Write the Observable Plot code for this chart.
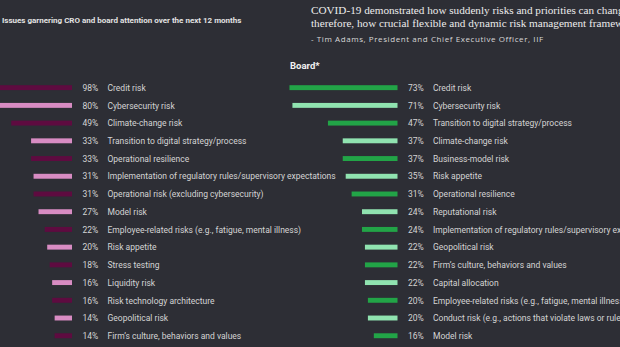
<!DOCTYPE html>
<html>
<head>
<meta charset="utf-8">
<script src="https://cdn.jsdelivr.net/npm/d3@7"></script>
<script src="https://cdn.jsdelivr.net/npm/@observablehq/plot@0.6"></script>
<style>
  html, body { margin: 0; padding: 0; background: #2d2e35; overflow: hidden; }
  #wrap { position: relative; width: 620px; height: 347px; background: #2d2e35; overflow: hidden; }
  #wrap svg { position: absolute; left: 0; top: 0; overflow: visible; }
  .t { position: absolute; white-space: nowrap; color: #e6e6e6; }
  #title { left: 2px; top: 15.5px; font: bold 8px Roboto, sans-serif; color: #e2e2e2; }
  #quote { left: 311px; top: 3.7px; font: 11.2px "Liberation Serif", serif; line-height: 13.7px; color: #ececec; }
  #attr { left: 311px; top: 33px; font: 8px "Open Sans", sans-serif; letter-spacing: 0.58px; color: #d8d8d8; }
  #board { left: 290px; top: 59.5px; font: bold 9.5px Roboto, sans-serif; color: #f2f2f2; }
</style>
</head>
<body>
<div id="wrap">
  <div class="t" id="title">Issues garnering CRO and board attention over the next 12 months</div>
  <div class="t" id="quote">COVID-19 demonstrated how suddenly risks and priorities can change, and<br>therefore, how crucial flexible and dynamic risk management frameworks are.</div>
  <div class="t" id="attr">- Tim Adams, President and Chief Executive Officer, IIF</div>
  <div class="t" id="board">Board*</div>
</div>
<script>
// CRO (left panel)
const croRisks = [
  "Credit risk",
  "Cybersecurity risk",
  "Climate-change risk",
  "Transition to digital strategy/process",
  "Operational resilience",
  "Implementation of regulatory rules/supervisory expectations",
  "Operational risk (excluding cybersecurity)",
  "Model risk",
  "Employee-related risks (e.g., fatigue, mental illness)",
  "Risk appetite",
  "Stress testing",
  "Liquidity risk",
  "Risk technology architecture",
  "Geopolitical risk",
  "Firm’s culture, behaviors and values"
];
const croValues = [98, 80, 49, 33, 33, 31, 31, 27, 22, 20, 18, 16, 16, 14, 14];

// Board (right panel)
const boardRisks = [
  "Credit risk",
  "Cybersecurity risk",
  "Transition to digital strategy/process",
  "Climate-change risk",
  "Business-model risk",
  "Risk appetite",
  "Operational resilience",
  "Reputational risk",
  "Implementation of regulatory rules/supervisory expectations",
  "Geopolitical risk",
  "Firm’s culture, behaviors and values",
  "Capital allocation",
  "Employee-related risks (e.g., fatigue, mental illness)",
  "Conduct risk (e.g., actions that violate laws or rules)",
  "Model risk"
];
const boardValues = [73, 71, 47, 37, 37, 35, 31, 24, 24, 22, 22, 22, 20, 20, 16];

const croColors = ["#5e0b40", "#d88cc3"];
const boardColors = ["#22a447", "#90e3b0"];

const W = 620, H = 347;
const rowTop = 78.8, rowBottom = 344.6;

function panel(risks, values, colors, xRange) {
  const data = risks.map((r, i) => ({i, risk: r, value: values[i], color: colors[i % 2]}));
  return Plot.plot({
    width: W, height: H,
    margin: 0,
    style: {background: "transparent", overflow: "visible"},
    x: {domain: [0, 100], range: xRange, axis: null},
    y: {domain: d3.range(risks.length), range: [rowTop, rowBottom], padding: 0, round: false, axis: null},
    color: {type: "identity"},
    marks: [
      Plot.barX(data, {x1: 0, x2: "value", y: "i", fill: "color", insetTop: 6.4, insetBottom: 6.4}),
      Plot.text(data, {x: 0, y: "i", text: d => d.value + "%", dx: 10, textAnchor: "start",
        fill: "#d4d4d4", fontSize: 8.5, fontFamily: "Roboto, sans-serif"}),
      Plot.text(data, {x: 0, y: "i", text: "risk", dx: 35, textAnchor: "start",
        fill: "#d4d4d4", fontSize: 8.5, fontFamily: "Roboto, sans-serif"})
    ]
  });
}

const wrap = document.getElementById("wrap");
wrap.appendChild(panel(croRisks, croValues, croColors, [72, -52]));
wrap.appendChild(panel(boardRisks, boardValues, boardColors, [397.5, 249.5]));
</script>
</body>
</html>
